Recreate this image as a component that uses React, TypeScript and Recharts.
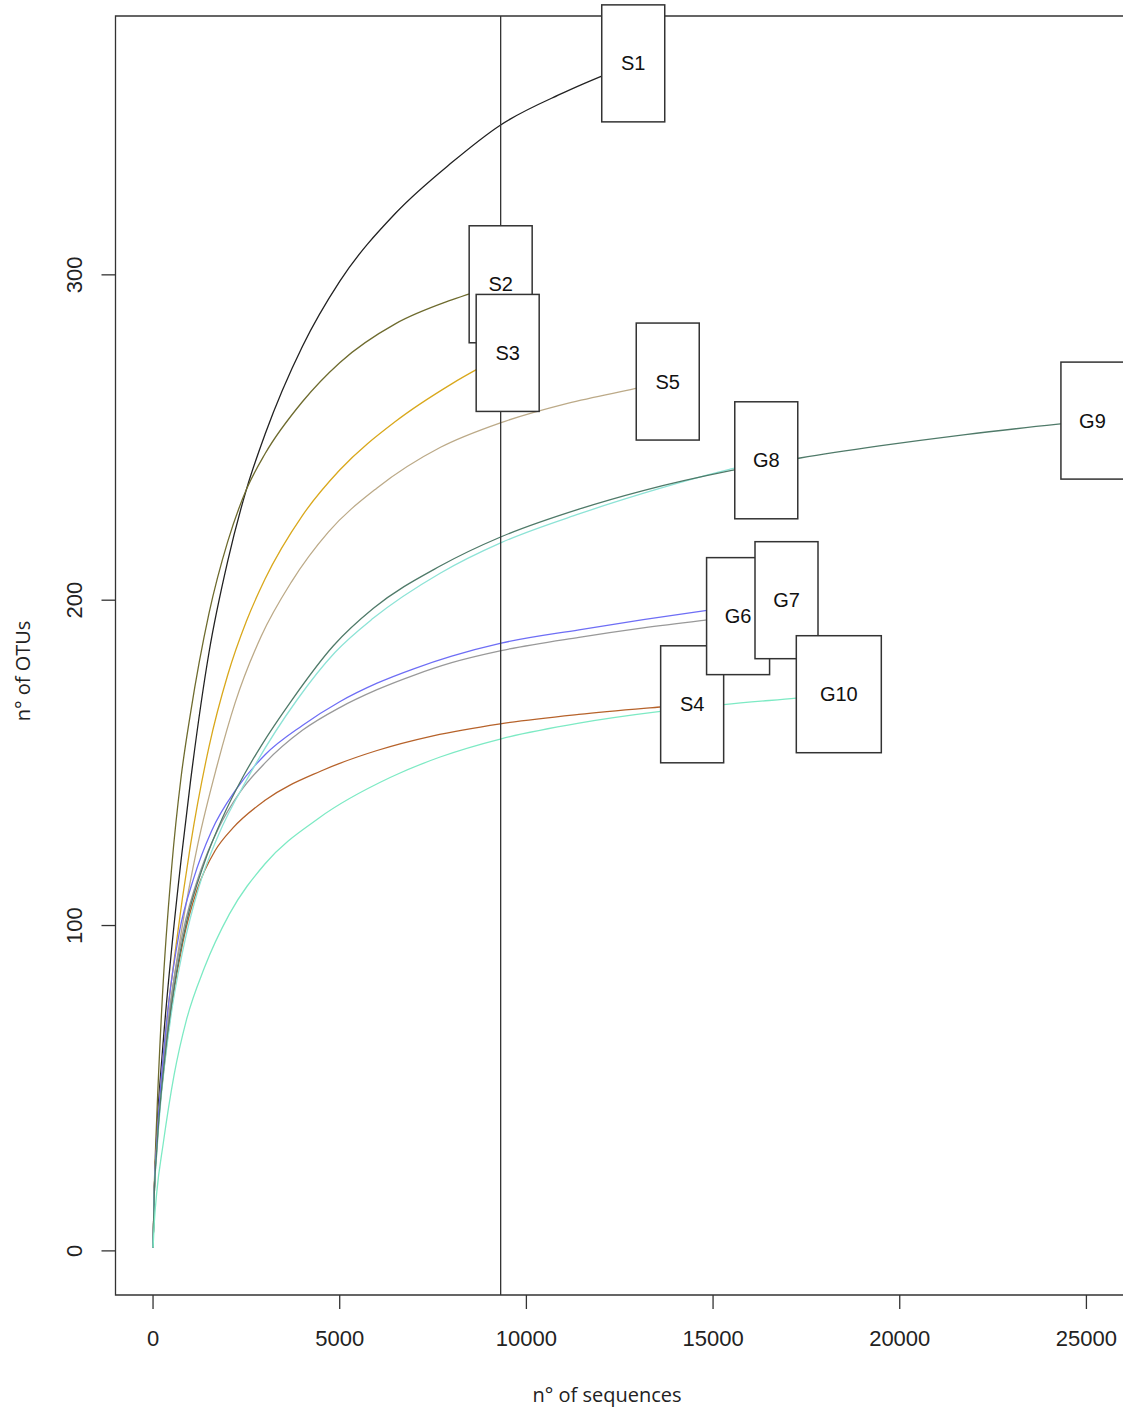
import {
    LineChart,
    Line,
    XAxis,
    YAxis,
    ReferenceLine,
    ReferenceDot,
    ReferenceArea
} from "recharts";

// rarefaction curves: [n° of sequences, n° of OTUs] for each sample
const s1 = [[1, 1], [30, 16], [100, 36], [250, 61], [500, 93], [750, 120], [1000, 144], [1500, 184], [2000, 212], [2500, 234], [3000, 251], [4000, 278], [5000, 298], [6500, 319], [8000, 334.5], [9300, 346], [11000, 356], [12862, 365]];
const s2 = [[1, 1], [30, 18], [100, 41], [250, 78], [500, 118], [750, 145.5], [1000, 165], [1500, 196], [2000, 218], [2500, 234], [3000, 245], [4000, 261], [5000, 273], [6500, 285], [8000, 292.3], [9311, 297.1]];
const s3 = [[1, 1], [30, 17], [100, 33], [300, 63], [600, 92.5], [1000, 124.5], [1500, 155], [2000, 177], [2500, 193.5], [3000, 206.5], [4000, 226], [5000, 240], [6500, 255], [8000, 266.5], [9499, 276]];
const s4 = [[1, 1], [30, 17], [100, 33], [273, 54], [509, 76], [801, 95], [1179, 111], [1661, 123], [2141, 130], [3001, 138.5], [4500, 147.5], [6000, 153.8], [7500, 158.3], [9300, 162], [11400, 164.9], [13500, 167.1], [14440, 168]];
const s5 = [[1, 1], [30, 17], [100, 32], [400, 69.5], [750, 97.5], [1200, 125], [1700, 148.5], [2200, 168.5], [2900, 189], [3700, 205.5], [4700, 221], [6000, 234.5], [7700, 247], [9300, 254.5], [11100, 260.5], [12900, 265], [13786, 267.2]];
const g6 = [[1, 1], [30, 17], [100, 32], [466, 76], [801, 98], [1278, 117], [1758, 130], [2331, 141], [3001, 150], [4000, 160], [5000, 167], [6000, 172.5], [7000, 177], [8000, 180.8], [9325, 184.5], [11409, 188.6], [13130, 191.5], [14791, 193.9], [15670, 195.1]];
const g7 = [[1, 1], [30, 17], [100, 33], [418, 76], [705, 98], [1088, 114.5], [1565, 129], [2235, 142], [3001, 152.5], [4000, 161.5], [5000, 168.8], [6000, 174.5], [7000, 179], [8000, 182.8], [9325, 186.8], [11409, 190.9], [13130, 194], [14791, 196.8], [16967, 200]];
const g8 = [[1, 1], [30, 16], [100, 30], [466, 71], [801, 92.5], [1233, 112], [1758, 128], [2519, 145], [3859, 169.4], [4877, 184], [5903, 194.5], [7690, 208.3], [9325, 217.7], [11409, 226.5], [13122, 232.8], [14858, 238.5], [16425, 243]];
const g9 = [[1, 1], [30, 16], [100, 31], [322, 60], [563, 81], [895, 101], [1375, 119.3], [1849, 132.8], [2428, 146.1], [2905, 155.4], [3700, 169], [4831, 186], [5903, 197.5], [7690, 210.5], [9325, 219.5], [11409, 228], [13130, 233.7], [15501, 239.9], [17331, 243.7], [19453, 247.4], [21758, 250.9], [24242, 254.1], [25161, 255.2]];
const g10 = [[1, 1], [30, 8], [100, 18], [273, 33], [563, 54], [895, 71], [1375, 87], [2044, 103.5], [3001, 119], [4437, 133], [6350, 145.5], [7690, 151.8], [9325, 157.4], [11409, 162.2], [13593, 165.8], [15284, 167.9], [17229, 169.9], [18368, 171.1]];

const sampleNames = ["S1", "S2", "S3", "S4", "S5", "G6", "G7", "G8", "G9", "G10"];
const sampleCurves = [s1, s2, s3, s4, s5, g6, g7, g8, g9, g10];
const sampleColors = ["#222222", "#6e6b2e", "#d9a81c", "#b6622a", "#bcaa88", "#999999", "#6e6ef5", "#8de3d6", "#4f7a69", "#7deac4"];

const xTicks = [0, 5000, 10000, 15000, 20000, 25000];
const yTicks = [0, 100, 200, 300];

const FONT = "'Liberation Sans', Arial, Helvetica, sans-serif";
const TITLE_FONT = "'Open Sans', 'Noto Sans', sans-serif";

const series = sampleNames.map((name, i) => ({
    name,
    color: sampleColors[i],
    points: sampleCurves[i].map(([n, otus]) => ({ n, otus }))
}));

// the vertical line marks the smallest library size
const minDepth = Math.min(...series.map(s => s.points[s.points.length - 1].n));

// R-style padding: 4% on each side of the data range
const xMax = Math.max(...series.map(s => s.points[s.points.length - 1].n));
const yMax = Math.max(...series.map(s => s.points[s.points.length - 1].otus));
const xDomain: [number, number] = [1 - 0.04 * (xMax - 1), xMax + 0.04 * (xMax - 1)];
const yDomain: [number, number] = [1 - 0.04 * (yMax - 1), yMax + 0.04 * (yMax - 1)];

function YTick({ x, y, payload }: any) {
    return (
        <text x={x} y={y} transform={`rotate(-90, ${x}, ${y})`} textAnchor="middle"
            fontSize={22} fill="#222" fontFamily={FONT}>
            {payload.value}
        </text>
    );
}

function SampleBox({ cx, cy, name }: { cx?: number; cy?: number; name: string }) {
    if (cx == null || cy == null) return null;
    const w = name.length * 22 + 19;
    const h = 117;
    return (
        <g>
            <rect x={cx - w / 2} y={cy - h / 2} width={w} height={h}
                fill="#fff" stroke="#333" strokeWidth={1.5} />
            <text x={cx} y={cy} dy="0.35em" textAnchor="middle"
                fontSize={20} fill="#111" fontFamily={FONT}>
                {name}
            </text>
        </g>
    );
}

const XTitle = () => (
    <text x={607} y={1402} textAnchor="middle" fontSize={20} fill="#222" fontFamily={TITLE_FONT}>
        n° of sequences
    </text>
);

const YTitle = () => (
    <text x={30} y={671} transform="rotate(-90, 30, 671)" textAnchor="middle"
        fontSize={20} fill="#222" fontFamily={TITLE_FONT}>
        n° of OTUs
    </text>
);

function RarefactionCurves() {
    return (
        <div style={{ position: "absolute", left: 0, top: 0, width: 1123, height: 1408, overflow: "hidden", background: "#fff" }}>
            <LineChart width={1130} height={1408} margin={{ top: 16, right: 0, bottom: 53, left: 55.5 }}>
                <XAxis dataKey="n" type="number" domain={xDomain} ticks={xTicks} allowDataOverflow
                    height={60} tickSize={14} tickMargin={21} axisLine={false}
                    tickLine={{ stroke: "#333", strokeWidth: 1.3 }}
                    tick={{ fontSize: 22, fill: "#222", fontFamily: FONT }}
                    label={{ content: XTitle }} />
                <YAxis dataKey="otus" type="number" domain={yDomain} ticks={yTicks} allowDataOverflow
                    width={60} tickSize={14} tickMargin={19} axisLine={false}
                    tickLine={{ stroke: "#333", strokeWidth: 1.3 }}
                    tick={<YTick />}
                    label={{ content: YTitle }} />

                <ReferenceArea x1={xDomain[0]} x2={xDomain[1]} y1={yDomain[0]} y2={yDomain[1]}
                    fill="none" stroke="#333" strokeWidth={1.3} fillOpacity={0} ifOverflow="visible" />

                {series.map(s => (
                    <Line key={s.name} data={s.points} dataKey="otus" type="monotone"
                        stroke={s.color} strokeWidth={1.3} dot={false} activeDot={false}
                        isAnimationActive={false} />
                ))}

                <ReferenceLine x={minDepth} stroke="#333" strokeWidth={1.3} />

                {series.map(s => {
                    const end = s.points[s.points.length - 1];
                    return (
                        <ReferenceDot key={"box-" + s.name} x={end.n} y={end.otus} ifOverflow="visible"
                            shape={(p: any) => <SampleBox cx={p.cx} cy={p.cy} name={s.name} />} />
                    );
                })}
            </LineChart>
        </div>
    );
}

export default function App() {
    return <RarefactionCurves />;
}
